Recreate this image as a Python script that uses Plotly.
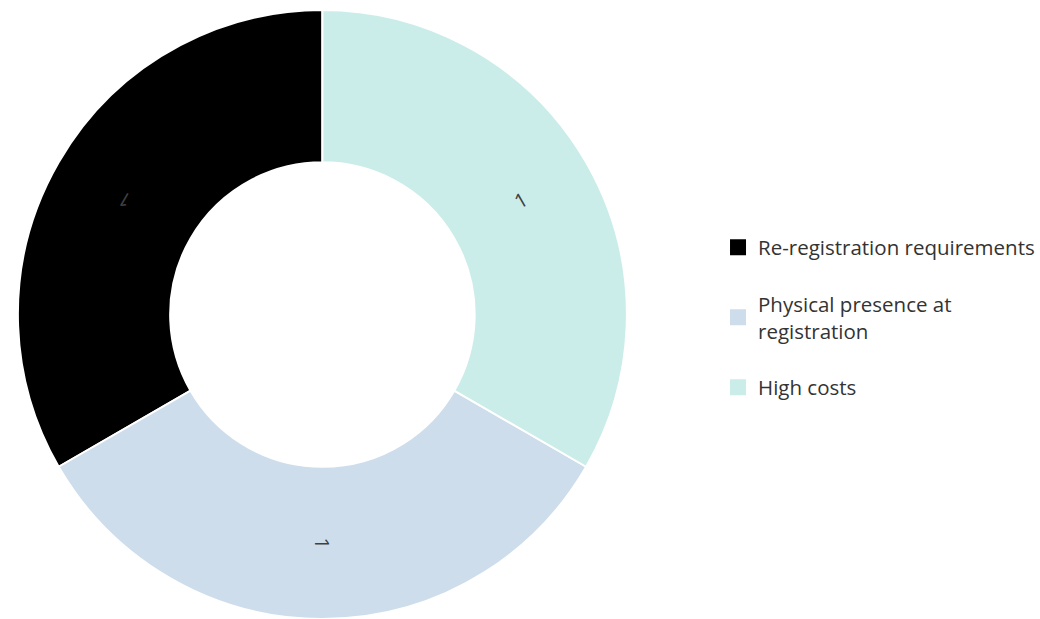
import math
import plotly.graph_objects as go

labels = ["Re-registration requirements", "Physical presence at<br>registration", "High costs"]
values = [1, 1, 1]
colors = ["#000000", "#cdddeb", "#cbede9"]

HOLE = 0.5
DOMAIN_X = [0, 0.62]
MARGIN = dict(l=0, r=0, t=10, b=0, autoexpand=False)
W, H = 1040, 619

total = sum(values)

fig = go.Figure()
fig.add_trace(
    go.Pie(
        labels=labels,
        values=values,
        sort=False,
        direction="counterclockwise",
        # first slice starts at 12 o'clock and runs counter-clockwise
        rotation=-360.0 * values[0] / total,
        hole=HOLE,
        marker=dict(colors=colors, line=dict(color="#ffffff", width=2)),
        textinfo="none",
        domain=dict(x=DOMAIN_X, y=[0, 1]),
        hoverinfo="label+value",
        showlegend=False,
    )
)

# legend entries (one group each so the gap between them can be set)
for lab, col in zip(labels, colors):
    fig.add_trace(
        go.Scatter(
            x=[None], y=[None], mode="markers", name=lab,
            marker=dict(symbol="square", size=16, color=col),
            legendgroup=lab, showlegend=True, hoverinfo="skip",
        )
    )

# radial value labels placed at each slice's mid-angle (counter-clockwise order, from top)
plot_w = W - MARGIN["l"] - MARGIN["r"]
plot_h = H - MARGIN["t"] - MARGIN["b"]
radius_px = min(plot_w * (DOMAIN_X[1] - DOMAIN_X[0]), plot_h) / 2
cx = (DOMAIN_X[0] + DOMAIN_X[1]) / 2
cy = 0.5
r_lab = radius_px * (1 + HOLE) / 2
cum = 0
annotations = []
for v in values:
    mid = (cum + v / 2) / total * 360.0
    theta = 360.0 - mid  # clockwise-from-top angle of the slice centre
    t = math.radians(theta)
    x = cx + r_lab * math.sin(t) / plot_w
    y = cy + r_lab * math.cos(t) / plot_h
    ang = theta - 90.0
    if ang > 180:
        ang -= 360
    annotations.append(
        dict(
            x=x, y=y, xref="paper", yref="paper", text=str(v), showarrow=False,
            textangle=ang, font=dict(family="Open Sans", size=20, color="#404040"),
            xanchor="center", yanchor="middle",
        )
    )
    cum += v

fig.update_layout(
    width=W,
    height=H,
    margin=MARGIN,
    paper_bgcolor="#ffffff",
    plot_bgcolor="#ffffff",
    font=dict(family="Open Sans", color="#333333"),
    xaxis=dict(visible=False),
    yaxis=dict(visible=False),
    annotations=annotations,
    showlegend=True,
    legend=dict(
        x=0.6904,
        xanchor="left",
        y=0.495,
        yanchor="middle",
        tracegroupgap=27,
        font=dict(family="Open Sans", size=20.5, color="#333333"),
        bgcolor="rgba(0,0,0,0)",
    ),
)

fig.write_html("out.html")
